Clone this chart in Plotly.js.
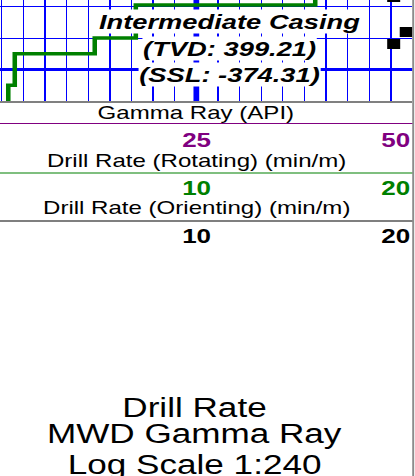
<!DOCTYPE html>
<html>
<head>
<meta charset="utf-8">
<script src="https://cdn.plot.ly/plotly-3.0.1.min.js"></script>
<style>
  html, body { margin: 0; padding: 0; background: #fff; overflow: hidden; width: 415px; height: 476px; }
  #wrap { width: 319px; height: 476px; transform: scaleX(1.30094); transform-origin: 0 0; }
</style>
</head>
<body>
<div id="wrap"><div id="chart"></div></div>
<script>
// Drill Rate (Rotating) (min/m) - step log, value held from each depth down to next depth
const rotDepth = [395.0, 395.9, 398.0, 399.0, 401.0, 402.5];
const rotRate  = [15.5, 7.2, 5.3, 1.6, 1.3, 1.3];
// Drill Rate (Orienting) (min/m) - point samples
const oriDepth = [395.4, 397.62, 398.38];
const oriRate  = [19.13, 19.71, 19.13];
// Track scales
const gammaScale = ['25', '50'];
const rotScale = ['10', '20'];
const oriScale = ['10', '20'];
const casingLines = ['Intermediate Casing', '(TVD: 399.21)', '(SSL: -374.31)'];
const titleLines = ['Drill Rate', 'MWD Gamma Ray', 'Log Scale 1:240'];

const FONT = 'Liberation Sans, Arial, sans-serif';
const W = 415, H = 476;
const px = x => x / W;          // reference-pixel -> paper x
const py = y => 1 - y / H;      // reference-pixel -> paper y

const traces = [
  { x: rotRate, y: rotDepth, mode: 'lines', line: { shape: 'vh', color: '#008000', width: 3.5 }, hoverinfo: 'skip' },
  { x: oriRate, y: oriDepth, mode: 'markers', marker: { symbol: 'square', size: 10, color: '#000000' }, hoverinfo: 'skip' }
];

const ann = [];
function txt(text, x, y, size, color, opts) {
  ann.push(Object.assign({ text: text, xref: 'paper', yref: 'paper', x: px(x), y: py(y),
    xanchor: 'center', yanchor: 'middle', showarrow: false,
    font: { family: FONT, size: size, color: color } }, opts || {}));
}
// casing annotation (white background per line)
const casY = [21.5, 48.5, 74];
casingLines.forEach((t, i) => txt('<b><i>' + t + '</i></b>', 230, casY[i], 21, '#000', { bgcolor: '#ffffff', borderpad: 0 }));
// headers
txt('Gamma Ray (API)', 196, 112.5, 18.5, '#000');
txt('<b>' + gammaScale[0] + '</b>', 196, 140, 20, '#800080');
txt('<b>' + gammaScale[1] + '</b>', 412, 140, 20, '#800080', { xanchor: 'right' });
txt('Drill Rate (Rotating) (min/m)', 196, 160.5, 18.5, '#000');
txt('<b>' + rotScale[0] + '</b>', 196, 188, 20, '#008000');
txt('<b>' + rotScale[1] + '</b>', 412, 188, 20, '#008000', { xanchor: 'right' });
txt('Drill Rate (Orienting) (min/m)', 196, 207.5, 18.5, '#000');
txt('<b>' + oriScale[0] + '</b>', 196, 236, 20, '#000');
txt('<b>' + oriScale[1] + '</b>', 412, 236, 20, '#000', { xanchor: 'right' });
const tY = [407.5, 433.5, 465];
titleLines.forEach((t, i) => txt(t, 195, tY[i], 27, '#000'));

const shapes = [
  { type: 'line', xref: 'x', yref: 'paper', x0: 10, x1: 10, y0: py(101.3), y1: 1, layer: 'between', line: { color: '#0000ff', width: 4.4 } },
  { type: 'line', xref: 'paper', yref: 'y', x0: 0, x1: px(412.5), y0: 400, y1: 400, layer: 'between', line: { color: '#0000ff', width: 3 } },
  { type: 'line', xref: 'paper', yref: 'paper', x0: 0, x1: px(413), y0: py(123.5), y1: py(123.5), line: { color: '#800080', width: 1 } },
  { type: 'line', xref: 'paper', yref: 'paper', x0: 0, x1: px(413), y0: py(173), y1: py(173), line: { color: '#008000', width: 1 } },
  { type: 'line', xref: 'paper', yref: 'paper', x0: 0, x1: px(413), y0: py(221), y1: py(221), line: { color: '#000000', width: 1 } },
  { type: 'line', xref: 'paper', yref: 'paper', x0: px(413.2), x1: px(413.2), y0: 0, y1: 1, line: { color: '#8c8c8c', width: 1.5 } }
];

const layout = {
  width: 319, height: 476,
  margin: { l: 0, r: 0, t: 0, b: 0, pad: 0 },
  paper_bgcolor: '#ffffff', plot_bgcolor: '#ffffff',
  showlegend: false,
  xaxis: { domain: [0, 412.5 / 415], range: [0.917, 20], tick0: 0, dtick: 1, showgrid: true, gridcolor: '#0000ff', gridwidth: 1,
           showticklabels: false, ticks: '', zeroline: false, showline: true, linecolor: '#808080', linewidth: 2, mirror: false, fixedrange: true },
  yaxis: { domain: [py(101.3), 1], range: [402.02, 395.587], tick0: 0, dtick: 2, showgrid: true, gridcolor: '#0000ff', gridwidth: 1,
           showticklabels: false, ticks: '', zeroline: false, showline: false, fixedrange: true },
  annotations: ann,
  shapes: shapes
};
Plotly.newPlot('chart', traces, layout, { staticPlot: true, displayModeBar: false });
</script>
</body>
</html>
